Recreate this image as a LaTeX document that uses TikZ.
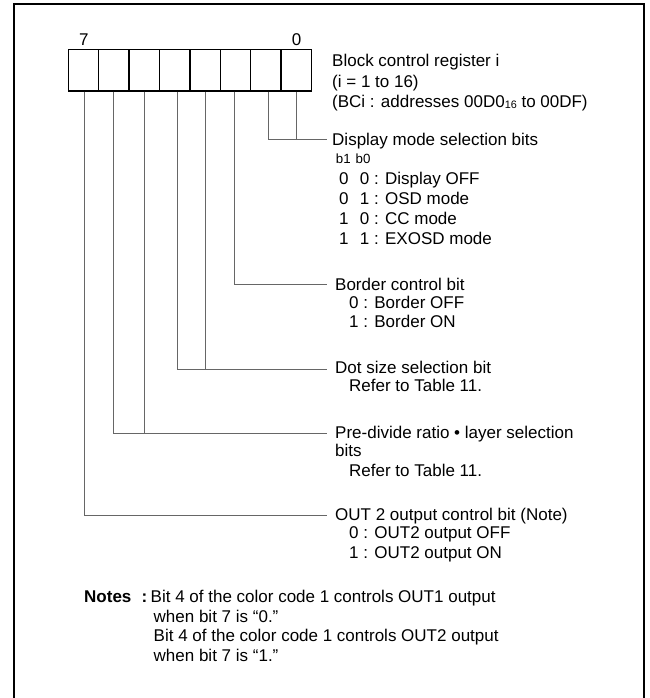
\documentclass[tikz,border=0pt]{standalone}
\usepackage{fontspec}
\setmainfont{Liberation Sans}
\begin{document}
\begin{tikzpicture}[x=1pt,y=-1pt,
  cell/.style={draw=black, line width=1.4pt, minimum width=30.4pt, minimum height=41.7pt, inner sep=0pt},
  conn/.style={draw=black!60, line width=0.9pt},
  lbl/.style={anchor=base west, inner sep=0pt, font=\fontsize{17}{19}\selectfont},
  small/.style={anchor=base west, inner sep=0pt, font=\fontsize{13.3}{15}\selectfont},
  bitno/.style={anchor=base, inner sep=0pt, font=\fontsize{17}{19}\selectfont}]
\useasboundingbox (0,0) rectangle (649,698);
% frame
\draw[line width=2pt] (13.5,698) -- (13.5,4.5) -- (644,4.5) -- (644,698);
% register cells
\foreach \i/\n in {0/b7,1/b6,2/b5,3/b4,4/b3,5/b2,6/b1,7/b0}
  \node[cell] (\n) at ({68.3+30.4*(\i+0.5)},70.2) {};
\node[bitno] (n7) at (83.8,46) {7};
\node[bitno] (n0) at (296.5,46) {0};
% register title
\node[lbl] (t1) at (332,66.7) {Block control register i};
\node[lbl] (t2) at (332,87.2) {(i = 1 to 16)};
\node[lbl] (t3) at (332,107.6) {(BCi : addresses 00D0\raisebox{-1pt}{\fontsize{10.8}{11}\selectfont 16} to 00DF)};
% connector end points
\coordinate (e1) at (326.5,139.5);
\coordinate (e2) at (326.5,284.5);
\coordinate (e3) at (326.5,369);
\coordinate (e4) at (326.5,433.5);
\coordinate (e5) at (326.5,515);
% connectors
\draw[conn] ([xshift=2.7pt]b1.south) |- (e1);
\draw[conn] (b0.south) -- (b0.south |- e1);
\draw[conn] ([xshift=-0.6pt]b2.south) |- (e2);
\draw[conn] ([xshift=3.2pt]b4.south) |- (e3);
\draw[conn] ([xshift=0.2pt]b3.south) -- ([xshift=0.2pt]b3.south |- e3);
\draw[conn] ([xshift=-0.3pt]b6.south) |- (e4);
\draw[conn] ([xshift=0.3pt]b5.south) -- ([xshift=0.3pt]b5.south |- e4);
\draw[conn] ([xshift=0.5pt]b7.south) |- (e5);
% display mode
\node[lbl] (d0) at (332,145) {Display mode selection bits};
\node[small] (d1) at (335.7,163) {b1\hspace{5pt}b0};
\node[lbl] (d2a) at (339,184.5) {0};
\node[lbl] (d2b) at (359.7,184.5) {0 : Display OFF};
\node[lbl] (d3a) at (339,204.5) {0};
\node[lbl] (d3b) at (359.7,204.5) {1 : OSD mode};
\node[lbl] (d4a) at (339,224.5) {1};
\node[lbl] (d4b) at (359.7,224.5) {0 : CC mode};
\node[lbl] (d5a) at (339,244.5) {1};
\node[lbl] (d5b) at (359.7,244.5) {1 : EXOSD mode};
% border
\node[lbl] (r0) at (335,290) {Border control bit};
\node[lbl] (r1) at (349,308.5) {0 : Border OFF};
\node[lbl] (r2) at (349,327.8) {1 : Border ON};
% dot size
\node[lbl] (s0) at (335,373.5) {Dot size selection bit};
\node[lbl] (s1) at (349,391.7) {Refer to Table 11.};
% pre-divide
\node[lbl] (p0) at (335,438.5) {Pre-divide ratio • layer selection};
\node[lbl] (p1) at (335,456.5) {bits};
\node[lbl] (p2) at (349,476) {Refer to Table 11.};
% out2
\node[lbl] (o0) at (335,520) {OUT 2 output control bit (Note)};
\node[lbl] (o1) at (349,538.5) {0 : OUT2 output OFF};
\node[lbl] (o2) at (349,558) {1 : OUT2 output ON};
% notes
\node[lbl] (nt) at (84,602.3) {\textbf{Notes}};
\node[lbl] (nc) at (141.5,602.3) {\textbf{:}};
\node[lbl] (n1) at (150.5,602.3) {Bit 4 of the color code 1 controls OUT1 output};
\node[lbl] (n2) at (153.5,622.7) {when bit 7 is “0.”};
\node[lbl] (n3) at (153.5,641.7) {Bit 4 of the color code 1 controls OUT2 output};
\node[lbl] (n4) at (153.5,661.7) {when bit 7 is “1.”};
\end{tikzpicture}
\end{document}
